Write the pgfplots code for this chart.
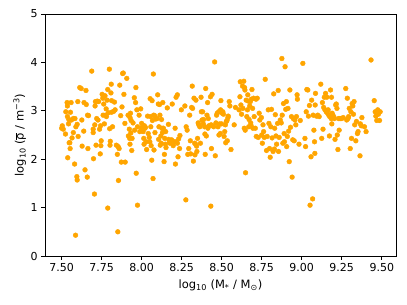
\documentclass[border=0pt]{standalone}
\usepackage{fontspec}
\setmainfont{DejaVu Sans}
\usepackage{pgfplots}
\pgfplotsset{compat=1.18}
\definecolor{mplorange}{RGB}{255,165,0}
\begin{document}
\fontsize{11bp}{13bp}\selectfont
\begin{tikzpicture}
\begin{axis}[
 scale only axis, width=351bp, height=242bp,
 xmin=7.396, xmax=9.589, ymin=0, ymax=5,
 xtick={7.5,7.75,8,8.25,8.5,8.75,9,9.25,9.5},
 xticklabels={7.50,7.75,8.00,8.25,8.50,8.75,9.00,9.25,9.50},
 ytick={0,1,2,3,4,5},
 tick align=outside, xtick pos=bottom, ytick pos=left,
 major tick length=3.5bp,
 every tick/.style={black, line width=0.8bp},
 axis line style={line width=0.8bp},
 /pgf/number format/assume math mode=true,
 tick label style={font=\fontsize{11bp}{13bp}\selectfont},
 label style={font=\fontsize{11.5bp}{13bp}\selectfont},
 xlabel={log\textsubscript{10} (M\textsubscript{*} / M\textsubscript{⊙})},
 ylabel={log\textsubscript{10} ($\overline{\mbox{ρ}}$ / m\textsuperscript{−3})},
 xlabel style={yshift=-1bp},
 ylabel style={yshift=-3bp},
]
\addplot[only marks, mark=*, color=mplorange, mark size=2.4bp, mark options={draw=none, fill=mplorange}] table {
x y
7.500 2.64
7.504 2.69
7.510 2.62
7.524 2.52
7.526 2.98
7.534 3.17
7.536 3.10
7.536 2.88
7.538 2.03
7.543 2.73
7.545 2.82
7.547 2.34
7.551 2.34
7.553 2.22
7.555 2.97
7.559 3.17
7.561 2.81
7.565 2.44
7.573 2.84
7.573 2.55
7.581 1.90
7.583 2.84
7.589 2.67
7.595 1.64
7.597 1.57
7.587 0.43
7.597 2.72
7.601 3.19
7.603 2.47
7.613 3.48
7.622 3.46
7.626 2.81
7.628 2.27
7.638 2.58
7.640 3.17
7.646 1.78
7.652 3.42
7.654 3.13
7.660 1.63
7.662 2.91
7.664 2.22
7.668 2.90
7.688 3.82
7.697 2.62
7.697 2.55
7.699 2.01
7.705 1.28
7.707 2.71
7.709 3.10
7.711 3.19
7.715 2.29
7.719 2.84
7.723 3.20
7.727 2.81
7.731 3.19
7.737 2.62
7.741 2.11
7.743 2.69
7.745 2.28
7.747 2.38
7.753 3.34
7.757 3.26
7.759 2.91
7.763 3.14
7.767 2.73
7.771 3.31
7.774 2.91
7.778 3.04
7.780 2.88
7.784 3.22
7.788 0.99
7.788 3.44
7.792 2.96
7.798 3.86
7.800 2.63
7.802 2.29
7.804 2.37
7.808 3.37
7.810 3.55
7.812 2.97
7.812 3.21
7.818 2.67
7.826 2.99
7.830 3.18
7.834 3.02
7.842 2.29
7.848 2.10
7.851 0.50
7.853 2.26
7.855 1.56
7.859 2.22
7.863 3.53
7.869 2.90
7.873 1.94
7.877 3.08
7.881 3.77
7.885 3.78
7.889 3.34
7.895 2.74
7.897 1.94
7.907 3.67
7.915 2.91
7.917 2.48
7.923 2.62
7.925 2.43
7.927 2.86
7.927 2.31
7.930 2.95
7.932 2.54
7.934 2.80
7.938 2.18
7.940 2.43
7.946 2.75
7.954 3.27
7.956 2.60
7.962 3.17
7.964 3.48
7.966 1.71
7.970 3.02
7.974 1.05
7.974 2.67
7.984 2.91
7.988 2.57
7.994 3.04
7.998 2.65
8.000 2.74
8.009 2.57
8.013 2.43
8.015 2.31
8.017 2.69
8.021 2.64
8.023 2.66
8.027 2.36
8.031 2.20
8.037 2.89
8.041 2.53
8.047 2.45
8.051 2.36
8.053 3.25
8.055 2.88
8.057 2.67
8.059 2.28
8.063 1.98
8.065 3.21
8.067 2.80
8.071 1.60
8.073 3.76
8.075 2.91
8.077 2.19
8.081 2.90
8.083 2.55
8.088 2.83
8.096 2.84
8.100 3.33
8.104 3.14
8.106 2.41
8.108 2.67
8.112 3.13
8.114 2.91
8.116 2.29
8.120 2.48
8.122 2.33
8.124 2.82
8.126 2.64
8.130 2.55
8.132 3.17
8.136 2.64
8.140 1.95
8.142 2.10
8.144 2.43
8.148 2.31
8.150 2.57
8.152 2.24
8.160 3.06
8.167 2.72
8.169 2.41
8.173 2.35
8.177 2.33
8.187 2.40
8.191 3.14
8.193 2.34
8.197 2.28
8.205 2.36
8.209 2.64
8.211 1.90
8.215 3.28
8.217 2.36
8.223 3.33
8.223 2.33
8.227 2.05
8.231 2.42
8.237 2.22
8.239 2.49
8.248 3.02
8.270 3.10
8.276 1.16
8.278 2.67
8.284 2.60
8.288 2.10
8.294 2.22
8.300 2.91
8.304 2.38
8.306 2.11
8.312 3.07
8.316 3.51
8.318 3.05
8.323 1.96
8.327 3.26
8.331 2.33
8.333 2.09
8.337 2.31
8.339 3.22
8.343 2.27
8.345 2.16
8.349 2.43
8.353 2.75
8.357 2.71
8.363 2.67
8.367 2.33
8.371 3.28
8.373 2.98
8.377 2.81
8.381 2.98
8.385 2.73
8.387 2.82
8.393 2.67
8.395 2.52
8.397 2.10
8.400 3.46
8.404 2.48
8.408 2.91
8.412 3.17
8.414 2.64
8.416 2.84
8.420 2.69
8.430 3.29
8.432 1.03
8.434 2.71
8.436 2.22
8.440 3.34
8.444 2.69
8.450 2.67
8.456 4.01
8.460 2.07
8.464 2.75
8.468 2.91
8.472 2.95
8.477 2.67
8.481 2.98
8.483 2.50
8.487 2.73
8.491 2.53
8.493 3.02
8.495 3.21
8.499 2.73
8.503 2.95
8.507 2.98
8.511 2.93
8.515 2.47
8.519 2.57
8.523 2.71
8.525 2.34
8.529 2.78
8.533 2.80
8.535 2.38
8.539 2.86
8.541 2.89
8.547 3.19
8.551 3.10
8.558 2.20
8.578 2.71
8.586 3.07
8.608 3.02
8.614 3.29
8.616 3.60
8.620 3.12
8.624 2.93
8.630 3.51
8.632 3.05
8.638 3.61
8.641 2.64
8.643 3.48
8.645 3.43
8.647 2.60
8.649 1.72
8.653 3.22
8.657 2.88
8.661 3.02
8.663 3.33
8.667 3.20
8.669 2.67
8.671 2.82
8.675 3.10
8.679 3.19
8.681 2.75
8.683 2.70
8.685 3.24
8.689 3.44
8.693 3.05
8.695 2.64
8.699 3.26
8.703 2.88
8.710 2.64
8.714 3.24
8.716 2.47
8.722 3.26
8.728 2.45
8.734 2.95
8.738 2.81
8.748 2.86
8.750 2.50
8.754 2.33
8.758 2.71
8.762 2.57
8.766 2.45
8.772 3.65
8.780 2.18
8.784 2.47
8.791 3.02
8.795 2.74
8.799 2.22
8.803 2.04
8.807 2.67
8.811 3.03
8.815 2.44
8.821 2.16
8.825 3.35
8.829 2.21
8.831 2.64
8.835 2.92
8.839 2.48
8.843 2.31
8.849 2.74
8.853 3.42
8.855 2.16
8.859 2.45
8.866 2.81
8.872 2.75
8.876 4.08
8.878 2.91
8.882 2.33
8.886 3.15
8.890 2.53
8.892 2.36
8.896 3.91
8.900 3.03
8.904 3.19
8.906 2.26
8.910 2.47
8.914 3.05
8.918 2.58
8.922 1.95
8.926 3.43
8.930 2.66
8.936 2.88
8.940 1.63
8.944 2.40
8.947 2.84
8.953 2.38
8.957 2.81
8.963 2.71
8.967 2.88
8.971 3.33
8.973 3.24
8.983 2.31
8.991 2.80
9.007 3.98
9.020 2.43
9.024 2.26
9.028 2.98
9.032 3.44
9.038 3.43
9.042 2.89
9.048 3.11
9.052 1.05
9.058 2.05
9.062 3.22
9.068 1.18
9.072 2.91
9.076 2.60
9.080 2.36
9.082 2.12
9.084 3.12
9.086 3.36
9.092 2.89
9.100 2.91
9.109 2.88
9.119 3.55
9.125 2.43
9.129 3.17
9.133 2.62
9.137 3.07
9.141 3.28
9.145 3.02
9.149 3.36
9.153 2.98
9.157 3.28
9.161 2.95
9.165 3.02
9.169 2.91
9.173 2.48
9.175 2.88
9.180 3.43
9.184 2.84
9.186 3.28
9.188 2.73
9.190 2.95
9.194 2.91
9.200 2.88
9.204 2.84
9.208 2.41
9.212 3.12
9.216 3.14
9.220 3.05
9.222 2.50
9.226 2.20
9.230 2.84
9.234 2.60
9.238 2.84
9.242 2.84
9.250 2.84
9.259 2.86
9.275 3.46
9.281 2.81
9.285 3.26
9.289 2.84
9.293 2.88
9.297 3.05
9.303 2.22
9.307 2.98
9.311 2.43
9.315 3.15
9.319 3.10
9.323 2.93
9.327 3.19
9.331 2.71
9.338 2.38
9.342 2.78
9.348 2.53
9.352 2.57
9.364 2.07
9.366 2.73
9.372 2.69
9.376 2.86
9.392 2.67
9.402 2.57
9.433 4.05
9.453 3.21
9.459 2.98
9.463 2.89
9.469 2.80
9.475 3.02
9.479 2.93
9.486 2.80
9.490 2.98
};
\end{axis}
\path ([xshift=-45bp,yshift=-49bp]current axis.south west) rectangle ([xshift=11bp,yshift=14bp]current axis.north east);
\end{tikzpicture}
\end{document}
